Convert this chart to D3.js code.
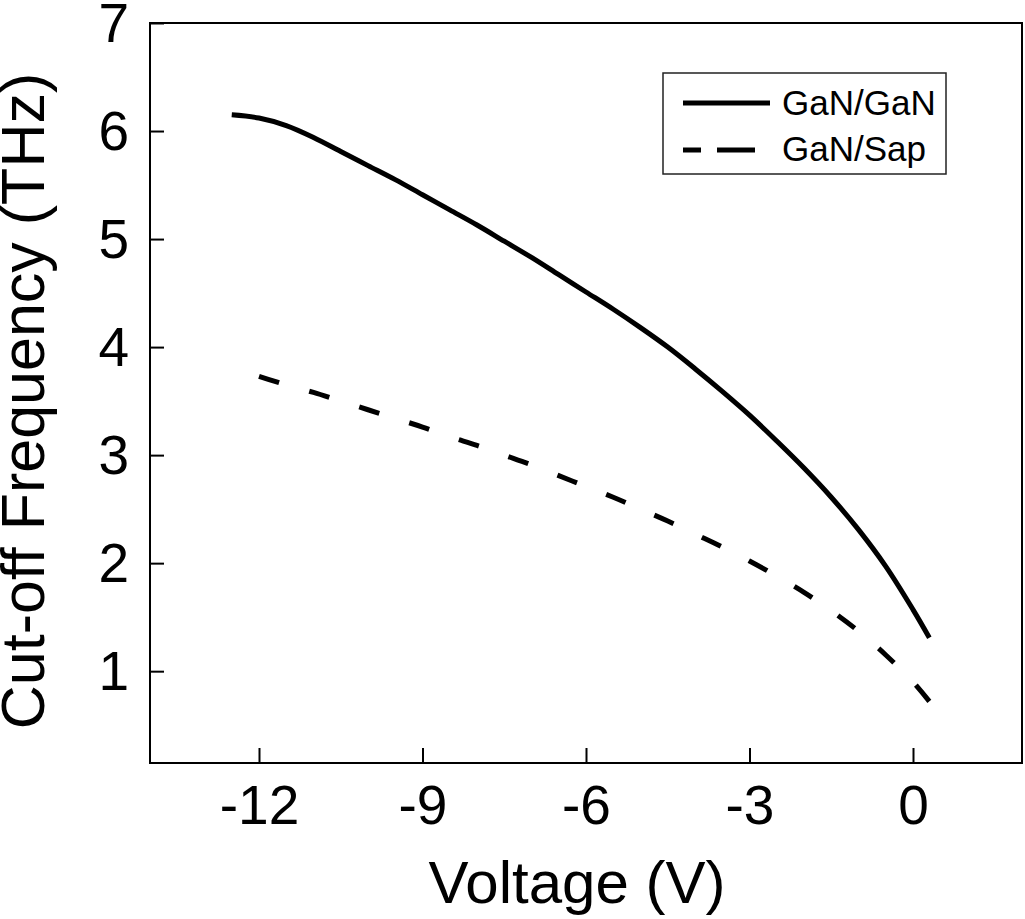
<!DOCTYPE html>
<html>
<head>
<meta charset="utf-8">
<script src="https://cdn.jsdelivr.net/npm/d3@7"></script>
<style>
  html, body { margin: 0; padding: 0; background: #fff; }
  svg { display: block; font-family: Arial, "Liberation Sans", Helvetica, sans-serif; }
</style>
</head>
<body>
<svg id="chart" width="1025" height="919"></svg>
<script>
// ---- Data ----
const voltageGaNGaN = [-12.5, -12, -11.5, -11, -10.5, -10, -9.5, -9, -8.5, -8, -7.5, -7, -6.5, -6, -5.5, -5, -4.5, -4, -3.5, -3, -2.5, -2, -1.5, -1, -0.5, 0, 0.3];
const freqGaNGaN    = [6.15, 6.12, 6.05, 5.94, 5.81, 5.68, 5.55, 5.41, 5.27, 5.13, 4.98, 4.83, 4.67, 4.51, 4.35, 4.18, 4.00, 3.80, 3.59, 3.37, 3.13, 2.88, 2.61, 2.31, 1.97, 1.57, 1.31];

const voltageGaNSap = [-12, -11.5, -11, -10.5, -10, -9.5, -9, -8.5, -8, -7.5, -7, -6.5, -6, -5.5, -5, -4.5, -4, -3.5, -3, -2.5, -2, -1.5, -1, -0.5, 0, 0.3];
const freqGaNSap    = [3.73, 3.65, 3.58, 3.50, 3.42, 3.34, 3.26, 3.17, 3.09, 3.00, 2.91, 2.81, 2.71, 2.61, 2.50, 2.39, 2.27, 2.15, 2.02, 1.88, 1.73, 1.56, 1.37, 1.15, 0.90, 0.72];

const seriesNames = ["GaN/GaN", "GaN/Sap"];
const xTicks = [-12, -9, -6, -3, 0];
const yTicks = [1, 2, 3, 4, 5, 6, 7];
const xDomain = [-14, 2];
const yDomain = [0.15, 7];
const xTitle = "Voltage (V)";
const yTitle = "Cut-off Frequency (THz)";

// ---- Layout ----
const svg = d3.select("#chart");
const plotL = 150, plotR = 1022, plotT = 23, plotB = 763;

const x = d3.scaleLinear().domain(xDomain).range([plotL, plotR]);
const y = d3.scaleLinear().domain(yDomain).range([plotB, plotT]);

// Frame
svg.append("rect")
  .attr("x", plotL).attr("y", plotT)
  .attr("width", plotR - plotL).attr("height", plotB - plotT)
  .attr("fill", "none").attr("stroke", "#000").attr("stroke-width", 2);

// X axis
const xAxis = d3.axisBottom(x).tickValues(xTicks).tickSizeInner(-15).tickSizeOuter(0).tickPadding(0).tickFormat(d3.format("d"));
const gx = svg.append("g").attr("transform", `translate(0,${plotB})`).call(xAxis);
gx.select(".domain").remove();
gx.selectAll(".tick line").attr("stroke", "#000").attr("stroke-width", 2);
gx.selectAll(".tick text")
  .attr("font-size", 55).attr("fill", "#000")
  .attr("y", 61).attr("dy", null)
  .text(d => d < 0 ? "-" + Math.abs(d) : String(d));

// Y axis
const yAxis = d3.axisLeft(y).tickValues(yTicks).tickSizeInner(-14).tickSizeOuter(0).tickPadding(0).tickFormat(d3.format("d"));
const gy = svg.append("g").attr("transform", `translate(${plotL},0)`).call(yAxis);
gy.select(".domain").remove();
gy.selectAll(".tick line").attr("stroke", "#000").attr("stroke-width", 2);
gy.selectAll(".tick text")
  .attr("font-size", 55).attr("fill", "#000")
  .attr("x", -21).attr("dy", null).attr("y", 18)
  .attr("text-anchor", "end");

// Axis titles
svg.append("text")
  .attr("x", 577).attr("y", 903)
  .attr("text-anchor", "middle").attr("font-size", 60).attr("fill", "#000")
  .text(xTitle);

svg.append("text")
  .attr("transform", `translate(44,401) rotate(-90)`)
  .attr("text-anchor", "middle").attr("font-size", 61).attr("fill", "#000")
  .text(yTitle);

// Lines
const line = d3.line().x(d => x(d[0])).y(d => y(d[1])).curve(d3.curveCatmullRom.alpha(0.5));
const dataGG = voltageGaNGaN.map((v, i) => [v, freqGaNGaN[i]]);
const dataGS = voltageGaNSap.map((v, i) => [v, freqGaNSap[i]]);

svg.append("path").datum(dataGG)
  .attr("d", line).attr("fill", "none").attr("stroke", "#000").attr("stroke-width", 5);

const dashed = svg.append("path").datum(dataGS)
  .attr("d", line).attr("fill", "none").attr("stroke", "#000").attr("stroke-width", 5);
// fit the dash pattern so the line starts and ends with a full dash
const L = dashed.node().getTotalLength();
const dashLen = 21;
const nPer = Math.max(1, Math.round((L - dashLen) / 52.5));
const gapLen = (L - dashLen) / nPer - dashLen;
dashed.attr("stroke-dasharray", `${dashLen},${gapLen.toFixed(2)}`);

// Legend
const lg = svg.append("g");
lg.append("rect")
  .attr("x", 663).attr("y", 73).attr("width", 283).attr("height", 101)
  .attr("fill", "#fff").attr("stroke", "#222").attr("stroke-width", 1.5);
const legendRows = [
  { name: seriesNames[0], dash: null, ly: 103, ty: 115 },
  { name: seriesNames[1], dash: "18,16,38,20", ly: 150, ty: 161 }
];
legendRows.forEach(r => {
  lg.append("line")
    .attr("x1", 683).attr("x2", 770).attr("y1", r.ly).attr("y2", r.ly)
    .attr("stroke", "#000").attr("stroke-width", 5)
    .attr("stroke-dasharray", r.dash);
  lg.append("text")
    .attr("x", 782).attr("y", r.ty)
    .attr("font-size", 35).attr("fill", "#000")
    .text(r.name);
});
</script>
</body>
</html>
